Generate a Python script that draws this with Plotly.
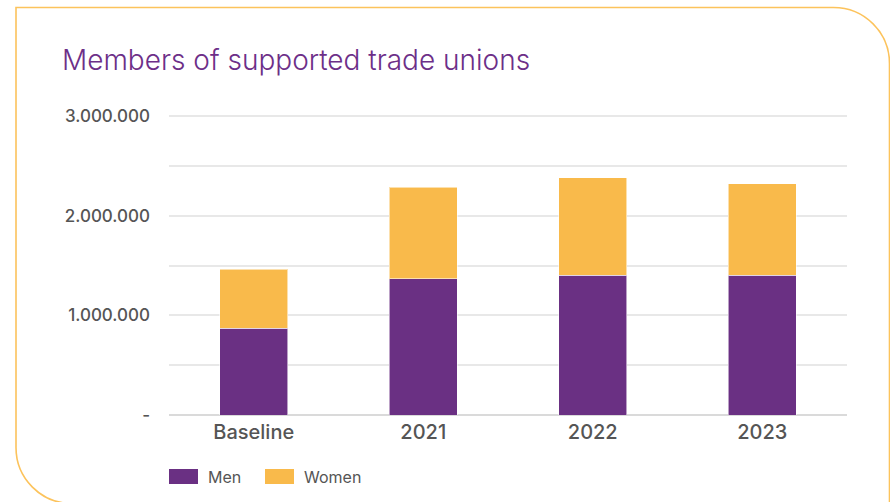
import plotly.graph_objects as go

# Members of supported trade unions, split by gender
categories = ["Baseline", "2021", "2022", "2023"]
men = [870000, 1365000, 1400000, 1400000]
women = [592000, 920000, 982000, 922000]
series_names = ["Men", "Women"]
series_colors = ["#6A3083", "#F9BA4B"]
y_tickvals = [0, 500000, 1000000, 1500000, 2000000, 2500000, 3000000]
y_ticktext = ["-", "", "1.000.000", "", "2.000.000", "", "3.000.000"]

W, H = 890, 502
ML, MR, MT, MB = 169, 43, 113, 87
PW, PH = W - ML - MR, H - MT - MB
# headroom above 3.000.000 so its gridline is drawn at y=116
y_max = 3000000 * PH / (PH - 3)


def px(x):
    return (x - ML) / PW


def py(y):
    return (H - MB - y) / PH


fig = go.Figure()
for name, vals, col in zip(series_names, [men, women], series_colors):
    fig.add_trace(go.Bar(
        x=categories, y=vals, name=name,
        marker=dict(color=col, line=dict(color="rgba(255,255,255,0.55)", width=1)),
        width=0.4, showlegend=False,
    ))

# Card frame with rounded top-right and bottom-left corners
L, T, R, B, r = 16, 7.5, 889.5, 503.5, 56
k = 0.5523 * r
pts = [
    ("M", [(L, T)]),
    ("L", [(R - r, T)]),
    ("C", [(R - r + k, T), (R, T + r - k), (R, T + r)]),
    ("L", [(R, B)]),
    ("L", [(L + r, B)]),
    ("C", [(L + r - k, B), (L, B - r + k), (L, B - r)]),
    ("Z", []),
]
path = ""
for cmd, coords in pts:
    path += cmd + " ".join(f"{px(x):.5f},{py(y):.5f}" for x, y in coords) + " "

shapes = [dict(type="path", path=path.strip(), xref="paper", yref="paper",
               line=dict(color="#FCC35C", width=1.6), layer="below")]

# Legend swatches and labels
annotations = []
legend_x = [169, 265]
for name, col, lx in zip(series_names, series_colors, legend_x):
    shapes.append(dict(type="rect", xref="paper", yref="paper",
                       x0=px(lx), x1=px(lx + 29), y0=py(484), y1=py(469),
                       fillcolor=col, line=dict(width=0)))
    annotations.append(dict(text=name, xref="paper", yref="paper",
                            x=px(lx + 37), y=py(477), xanchor="left", yanchor="middle",
                            showarrow=False,
                            font=dict(family="Inter", size=16, color="#555555")))

fig.update_layout(
    width=W, height=H,
    margin=dict(l=ML, r=MR, t=MT, b=MB),
    barmode="stack",
    bargap=0.6,
    plot_bgcolor="white", paper_bgcolor="white",
    title=dict(text="Members of supported trade unions", x=62 / W, xanchor="left",
               y=1 - 60 / H, yanchor="middle",
               font=dict(family="Inter", size=28, color="#6D2F88", weight=300)),
    xaxis=dict(tickfont=dict(family="Inter", size=20, color="#555555", weight=500),
               showgrid=False, showline=False, ticks="", ticklabelstandoff=3),
    yaxis=dict(range=[0, y_max], tickvals=y_tickvals, ticktext=y_ticktext,
               tickfont=dict(family="Inter", size=17, color="#555555", weight=500),
               showgrid=True, gridcolor="#E8E8E8", gridwidth=2,
               zeroline=True, zerolinecolor="#DADADA", zerolinewidth=2,
               ticklabelstandoff=18, showline=False, ticks=""),
    shapes=shapes,
    annotations=annotations,
    showlegend=False,
)

fig.write_html("out.html")
